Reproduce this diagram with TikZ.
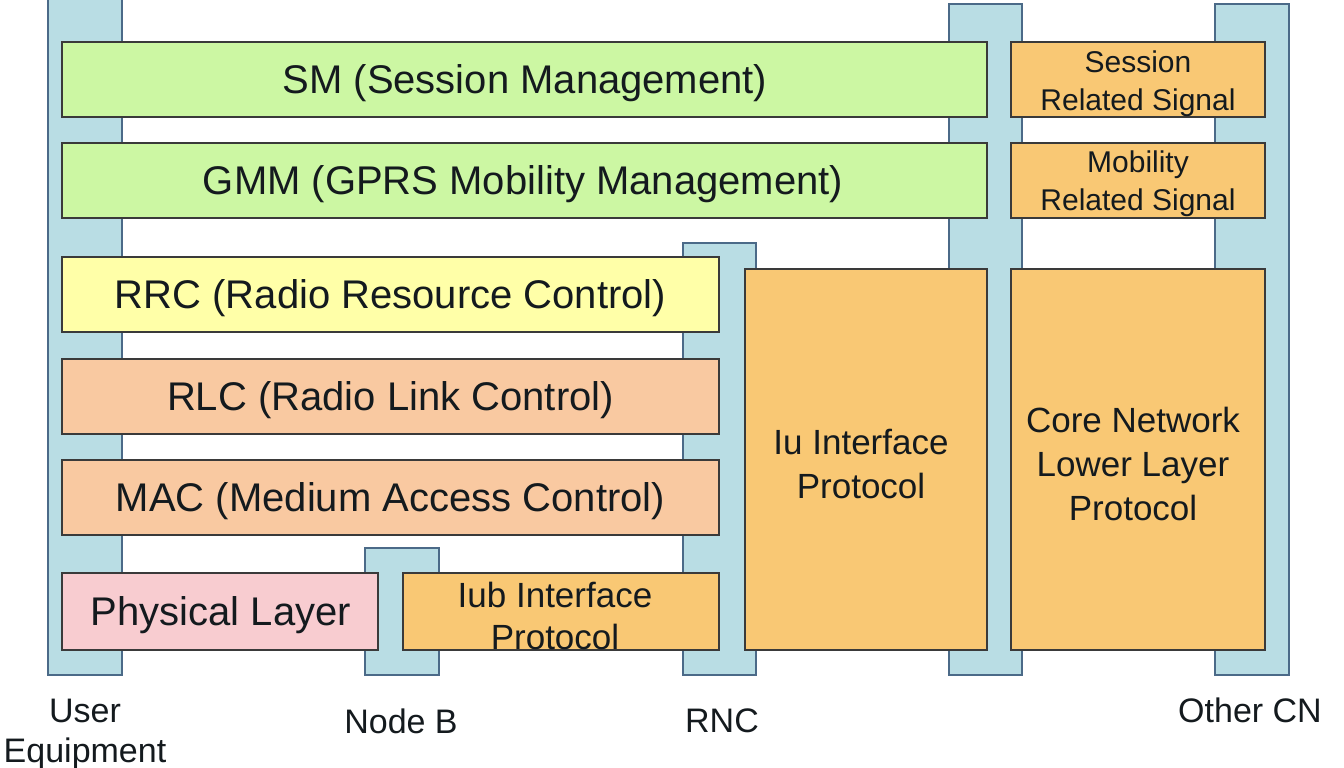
\documentclass[tikz,border=0pt]{standalone}
\usepackage{fontspec}
\setmainfont{Liberation Sans}
\definecolor{pillarfill}{HTML}{B9DDE4}
\definecolor{pillarline}{HTML}{4B6A88}
\definecolor{boxline}{HTML}{3A3A3A}
\definecolor{greenfill}{HTML}{CCF7A3}
\definecolor{yellowfill}{HTML}{FFFFA8}
\definecolor{peachfill}{HTML}{F9C9A1}
\definecolor{pinkfill}{HTML}{F8CCD0}
\definecolor{orangefill}{HTML}{F9C874}
\definecolor{txt}{HTML}{141A1E}
\tikzset{
  pillar/.style={draw=pillarline, fill=pillarfill, line width=2pt, inner sep=0pt},
  layer/.style={draw=boxline, line width=2pt, inner sep=0pt},
  ltext/.style={text=txt, align=center, inner sep=0pt},
  bigtxt/.style={font=\fontsize{40}{44}\selectfont},
  midtxt/.style={font=\fontsize{35}{44}\selectfont},
  smalltxt/.style={font=\fontsize{30}{38}\selectfont},
  lbl/.style={text=txt, align=center, font=\fontsize{34}{40}\selectfont, inner sep=0pt}
}
\begin{document}
\begin{tikzpicture}[x=1pt,y=-1pt]
\useasboundingbox (0,0) rectangle (1344,768);
\clip (0,0) rectangle (1344,768);
\fill[white] (0,0) rectangle (1344,768);
% pillars
\node[pillar, minimum width=74, minimum height=685] (ue) at (85,332.5) {};
\node[pillar, minimum width=74, minimum height=127] (nb) at (402,611.5) {};
\node[pillar, minimum width=73, minimum height=432] (rnc) at (719.5,459) {};
\node[pillar, minimum width=73, minimum height=671] (cn) at (985.5,339.5) {};
\node[pillar, minimum width=74, minimum height=671] (ocn) at (1252,339.5) {};
% layers
\node[layer, fill=greenfill, minimum width=925, minimum height=75] (sm) at (524.5,79.5) {};
\node[ltext, bigtxt] (smt) at (525,83) {SM (Session Management)};
\node[layer, fill=greenfill, minimum width=925, minimum height=75] (gmm) at (524.5,180.5) {};
\node[ltext, bigtxt] (gmmt) at (523,184) {GMM (GPRS Mobility Management)};
\node[layer, fill=orangefill, minimum width=254, minimum height=75] (srs) at (1138,79.5) {};
\node[ltext, smalltxt] (srst) at (1138,84) {Session\\Related Signal};
\node[layer, fill=orangefill, minimum width=254, minimum height=75] (mrs) at (1138,180.5) {};
\node[ltext, smalltxt] (mrst) at (1138,184) {Mobility\\Related Signal};
\node[layer, fill=yellowfill, minimum width=657, minimum height=75] (rrc) at (390.5,294.5) {};
\node[ltext, bigtxt] (rrct) at (390.5,298) {RRC (Radio Resource Control)};
\node[layer, fill=peachfill, minimum width=657, minimum height=75] (rlc) at (390.5,396.5) {};
\node[ltext, bigtxt] (rlct) at (390.5,400) {RLC (Radio Link Control)};
\node[layer, fill=peachfill, minimum width=657, minimum height=75] (mac) at (390.5,497.5) {};
\node[ltext, bigtxt] (mact) at (390.5,501) {MAC (Medium Access Control)};
\node[layer, fill=pinkfill, minimum width=316, minimum height=77] (phy) at (220,611.5) {};
\node[ltext, bigtxt] (phyt) at (221,615) {Physical Layer};
\node[layer, fill=orangefill, minimum width=316, minimum height=77] (iub) at (561,611.5) {};
\node[ltext, font=\fontsize{35}{42}\selectfont] (iubt) at (555,616) {Iub Interface\\Protocol};
\node[layer, fill=orangefill, minimum width=242, minimum height=381] (iu) at (866,459.5) {};
\node[ltext, midtxt] (iut) at (861,464) {Iu Interface\\Protocol};
\node[layer, fill=orangefill, minimum width=254, minimum height=381] (cnl) at (1138,459.5) {};
\node[ltext, midtxt] (cnlt) at (1133,464) {Core Network\\Lower Layer\\Protocol};
% labels
\node[lbl] (uel) at (85,734) {User\\Equipment};
\node[lbl] (nbl) at (401,721) {Node B};
\node[lbl] (rncl) at (722,721) {RNC};
\node[lbl] (ocnl) at (1250,710) {Other CN};
\end{tikzpicture}
\end{document}
